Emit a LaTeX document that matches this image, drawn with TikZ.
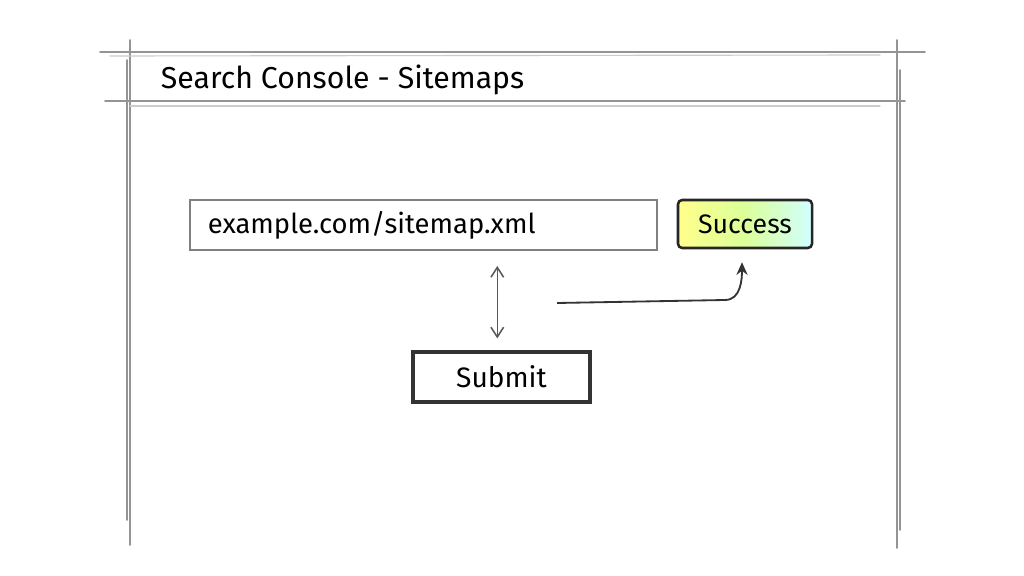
\documentclass[tikz,border=0pt]{standalone}
\usepackage{fontspec}
\setmainfont{Fira Sans}
\usetikzlibrary{positioning, arrows.meta, calc}

\begin{document}
\begin{tikzpicture}[x=0.025cm, y=-0.025cm]
	% styles
	\tikzset{
		pencil/.style={draw=black!42, line width=1.2pt, line cap=round},
		faint/.style={draw=black!20, line width=0.8pt, line cap=round},
		field/.style={
			draw=black!50, line width=1.4pt, fill=white,
			minimum height=1.25cm, inner sep=0pt
		},
		okbox/.style={
			draw=black!85, line width=1.8pt, rounded corners=3pt,
			left color=yellow!45, right color=cyan!18, middle color=green!35!yellow!40,
			minimum width=3.35cm, minimum height=1.2cm
		},
		button/.style={
			draw=black!80, line width=2.2pt, fill=white,
			minimum width=4.425cm, minimum height=1.25cm
		},
		dbl/.style={draw=black!65, line width=1.1pt, {Straight Barb[length=7pt,width=9pt]}-{Straight Barb[length=7pt,width=9pt]}},
		flow/.style={draw=black!80, line width=1.3pt, -{Stealth[length=9pt,width=8pt]}}
	}

	% canvas
	\fill[white] (0,0) rectangle (1024,576);
	\useasboundingbox (0,0) rectangle (1024,576);

	% window frame
	\foreach \x/\ya/\yb in {130/40/545, 127/60/520, 897/40/548, 900/70/530} {
		\draw[pencil] (\x,\ya) -- (\x,\yb);
	}
	\draw[pencil] (100,52) -- (925,52);
	\draw[faint] (110,56) -- (880,55);
	\draw[pencil] (105,101) -- (905,101);
	\draw[faint] (130,106) -- (880,106);

	% title
	\node[anchor=west, font=\fontsize{21.5}{26}\selectfont] (title) at (156,80) {Search Console - Sitemaps};

	% url field
	\node[field, text width=10.775cm, inner xsep=0.45cm, align=left, font=\fontsize{19.5}{23}\selectfont] (urlbox) at (423.5,225) {example.com/sitemap.xml};

	% status
	\node[okbox, font=\fontsize{19}{23}\selectfont] (success) at (745,224) {Success};

	% submit button
	\node[button, font=\fontsize{20}{24}\selectfont] (submit) at (501.5,377) {Submit};

	% arrows
	\draw[dbl, shorten >=0.375cm, shorten <=0.3cm] ([xshift=-3pt]submit.north) -- ([xshift=-3pt]submit.north |- urlbox.south);
	\coordinate (flowstart) at (557,303);
	\draw[flow] (flowstart) -- ++(168,-3) to[out=0, in=-90] ($(success.south)+(-3,13)$);
\end{tikzpicture}
\end{document}
